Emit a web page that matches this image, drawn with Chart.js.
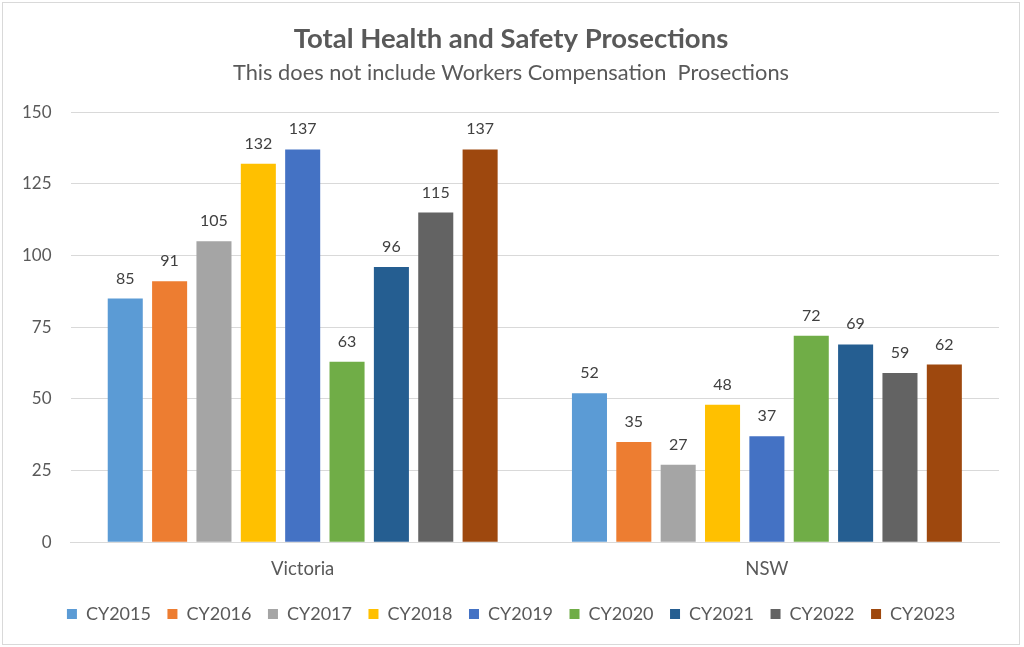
<!DOCTYPE html>
<html>
<head>
<meta charset="utf-8">
<script src="https://cdn.jsdelivr.net/npm/chart.js@4.4.1/dist/chart.umd.min.js"></script>
<style>
html,body{margin:0;padding:0;background:#fff;}
#wrap{position:absolute;left:2px;top:2px;width:1016px;height:641px;border:1px solid #d9d9d9;background:#fff;}
canvas{display:block;}
</style>
</head>
<body>
<div id="wrap"><canvas id="c" width="1016" height="641"></canvas></div>
<script>
const categories = ["Victoria", "NSW"];
const seriesNames = ["CY2015","CY2016","CY2017","CY2018","CY2019","CY2020","CY2021","CY2022","CY2023"];
const victoria = [85, 91, 105, 132, 137, 63, 96, 115, 137];
const nsw = [52, 35, 27, 48, 37, 72, 69, 59, 62];
const colors = ["#5B9BD5","#ED7D31","#A5A5A5","#FFC000","#4472C4","#70AD47","#255E91","#636363","#9E480E"];
const yTicks = [0, 25, 50, 75, 100, 125, 150];

const FONT = "Lato, 'Open Sans', sans-serif";

const datasets = seriesNames.map((name, i) => ({
  label: name,
  data: [victoria[i], nsw[i]],
  backgroundColor: colors[i],
  borderWidth: 0,
  categoryPercentage: 0.86,
  barPercentage: 0.79
}));

const valueLabels = {
  id: 'valueLabels',
  afterDatasetsDraw(chart) {
    const ctx = chart.ctx;
    ctx.save();
    ctx.font = "16px " + FONT;
    ctx.fillStyle = "#404040";
    ctx.textAlign = "center";
    ctx.textBaseline = "alphabetic";
    chart.data.datasets.forEach((ds, i) => {
      const meta = chart.getDatasetMeta(i);
      meta.data.forEach((bar, j) => {
        ctx.fillText(String(ds.data[j]), bar.x, bar.y - 15);
      });
    });
    ctx.restore();
  }
};

new Chart(document.getElementById('c'), {
  type: 'bar',
  data: { labels: categories, datasets },
  options: {
    responsive: false,
    animation: false,
    layout: { padding: { left: 0, right: 0, top: 0, bottom: 11 } },
    plugins: {
      title: {
        display: true,
        text: "Total Health and Safety Prosections",
        color: "#595959",
        font: { family: FONT, size: 27.5, weight: 'bold' },
        padding: { top: 20, bottom: 4 }
      },
      subtitle: {
        display: true,
        text: "This does not include Workers Compensation  Prosections",
        color: "#595959",
        font: { family: FONT, size: 21.8 },
        padding: { bottom: 26 }
      },
      legend: {
        position: 'bottom',
        labels: {
          boxWidth: 10,
          boxHeight: 10,
          color: "#595959",
          font: { family: FONT, size: 18 },
          padding: 16.5
        }
      },
      tooltip: { enabled: false }
    },
    scales: {
      x: {
        grid: { display: false },
        border: { color: "#d9d9d9" },
        ticks: { color: "#595959", font: { family: FONT, size: 18.5 }, padding: 8 }
      },
      y: {
        min: 0, max: 150,
        afterBuildTicks(axis) { axis.ticks = yTicks.map(v => ({ value: v })); },
        grid: { color: "#d9d9d9", drawTicks: false },
        border: { display: false },
        ticks: { color: "#595959", font: { family: FONT, size: 17 }, padding: 19 }
      },
      yRight: {
        position: 'right',
        display: true,
        min: 0, max: 150,
        grid: { display: false, drawTicks: false },
        border: { display: false },
        ticks: { display: false },
        afterFit(axis) { axis.width = 20; }
      }
    }
  },
  plugins: [valueLabels]
});
</script>
</body>
</html>
